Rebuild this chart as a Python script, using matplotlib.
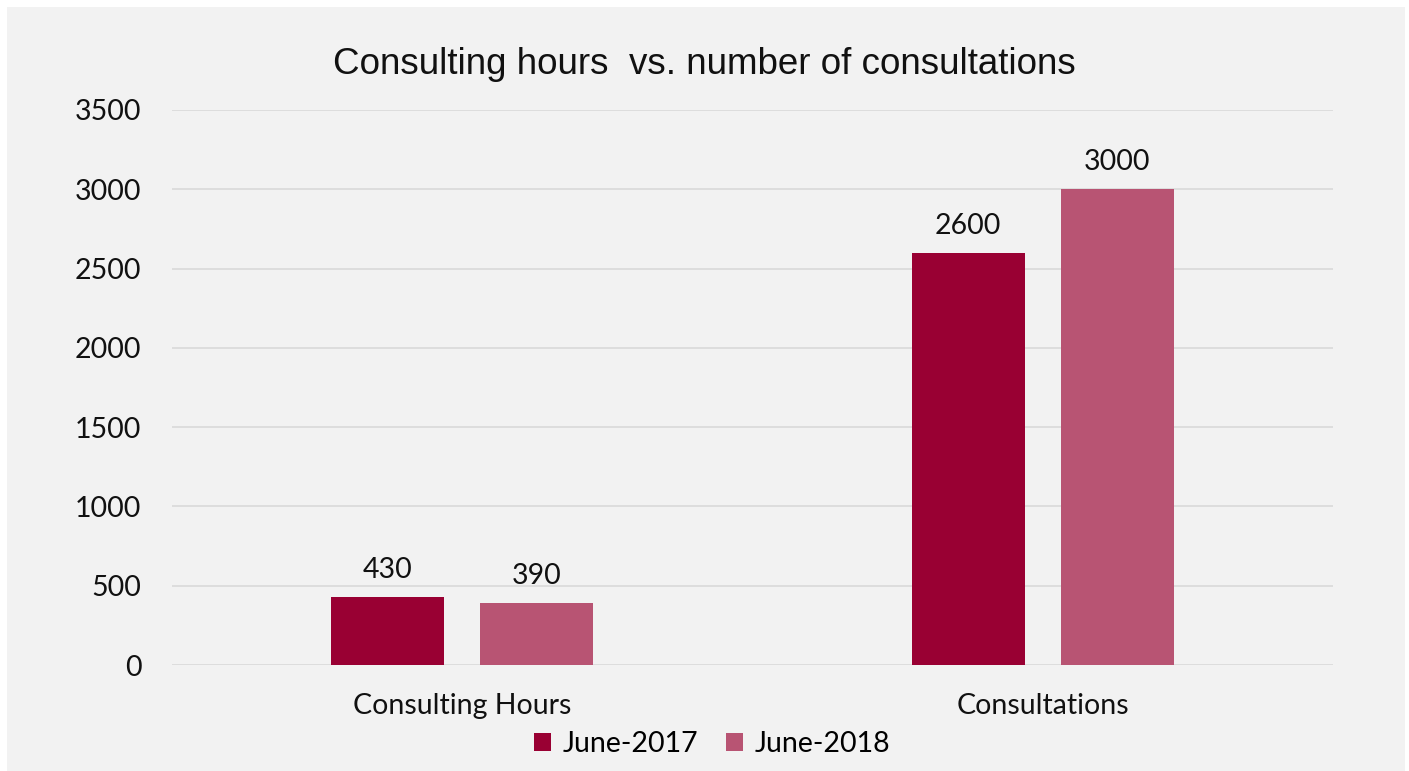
import matplotlib.pyplot as plt
from matplotlib.patches import Rectangle

categories = ["Consulting Hours", "Consultations"]
series_names = ["June-2017", "June-2018"]
june_2017 = [430, 2600]
june_2018 = [390, 3000]
yticks = [0, 500, 1000, 1500, 2000, 2500, 3000, 3500]

colors = ["#990033", "#b85473"]
label_font = ["Lato", "DejaVu Sans"]
fs = 20.5

fig = plt.figure(figsize=(14.09, 7.71), dpi=100)
fig.patch.set_facecolor("white")
# grey chart area, inset a little from the image edge
fig.patches.append(Rectangle((7 / 1409, 0), 1398 / 1409, 764 / 771,
                             transform=fig.transFigure, facecolor="#f2f2f2",
                             edgecolor="none", zorder=-5))

ax = fig.add_axes([172 / 1409, 1 - 665 / 771, 1161 / 1409, 555 / 771])
ax.set_facecolor("none")

x = list(range(len(categories)))
w = 0.195
off = 0.1285
b1 = ax.bar([i - off for i in x], june_2017, w, color=colors[0], label=series_names[0], zorder=3)
b2 = ax.bar([i + off for i in x], june_2018, w, color=colors[1], label=series_names[1], zorder=3)

for bars in (b1, b2):
    for rect in bars:
        h = rect.get_height()
        ax.annotate(str(int(h)), (rect.get_x() + rect.get_width() / 2, h),
                    xytext=(0, 10), textcoords="offset points", ha="center", va="bottom",
                    fontsize=fs, family=label_font, color="#111111")

ax.set_xlim(-0.5, 1.5)
ax.set_ylim(0, 3500)
ax.set_yticks(yticks)
ax.set_yticklabels([str(t) for t in yticks], fontsize=fs, family=label_font, color="#111111")
ax.set_xticks(x)
ax.set_xticklabels(categories, fontsize=fs, family=label_font, color="#111111")
ax.tick_params(axis="both", length=0)
ax.tick_params(axis="y", pad=22)
ax.tick_params(axis="x", pad=20)
ax.grid(axis="y", color="#d9d9d9", linewidth=1.2, zorder=0)
for s in ax.spines.values():
    s.set_visible(False)

fig.text(0.5, 1 - 64 / 771, "Consulting hours  vs. number of consultations",
         ha="center", va="center", fontsize=26.5, family="Liberation Sans", color="#111111")

leg = fig.legend(handles=[b1, b2], labels=series_names, loc="center",
                 bbox_to_anchor=(712 / 1409, 1 - 744 / 771), ncol=2, frameon=False,
                 prop={"family": label_font, "size": fs}, handlelength=0.6, handleheight=0.6,
                 handletextpad=0.4, columnspacing=1.0)

fig.savefig("out.png", dpi=100)
